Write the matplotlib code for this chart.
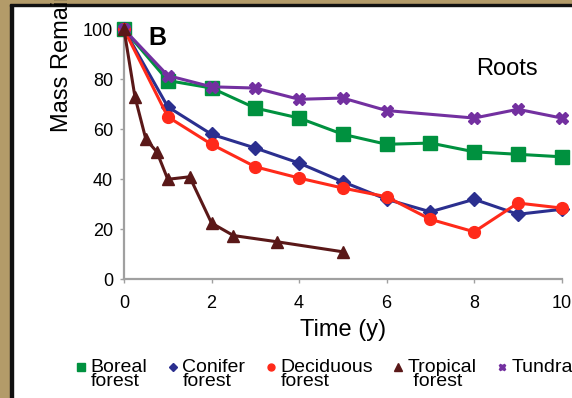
import numpy as np
import matplotlib
matplotlib.use('Agg')
import matplotlib.pyplot as plt
from matplotlib.legend_handler import HandlerLine2D
from matplotlib.patches import Rectangle

plt.rcParams['font.family'] = ['Liberation Sans', 'DejaVu Sans']

# values (mass remaining, %)
years = [0, 1, 2, 3, 4, 5, 6, 7, 8, 9, 10]
boreal = [100, 79.5, 76.5, 68.5, 64.5, 58, 54, 54.5, 51, 50, 49]
conifer = [100, 69, 58, 52.5, 46.5, 39, 32, 27, 32, 26, 28]
deciduous = [100, 65, 54, 45, 40.5, 36.5, 33, 24, 19, 30.5, 28.5]
tundra_years = [0, 1, 2, 3, 4, 5, 6, 8, 9, 10]
tundra = [100, 81.5, 77, 76.5, 72, 72.5, 67.5, 64.5, 68, 64.5]
tropical_years = [0, 0.25, 0.5, 0.75, 1, 1.5, 2, 2.5, 3.5, 5]
tropical = [100, 73, 56, 51, 40, 41, 22.5, 17.5, 15, 11]

x_ticks = [0, 2, 4, 6, 8, 10]
y_ticks = [0, 20, 40, 60, 80, 100]

W, H = 572, 398
fig = plt.figure(figsize=(W / 100, H / 100), dpi=100)

# tan frame on left/top edge
fig.patches.append(Rectangle((0, 0), 10 / W, 1, transform=fig.transFigure, color='#b39b69', zorder=0))
fig.patches.append(Rectangle((10 / W, 0), 3 / W, 1 - 4 / H, transform=fig.transFigure, color='#111111', zorder=0))
fig.patches.append(Rectangle((0, 1 - 4 / H), 1, 4 / H, transform=fig.transFigure, color='#b39b69', zorder=0))
fig.patches.append(Rectangle((10 / W, 1 - 6 / H), 1, 2 / H, transform=fig.transFigure, color='#111111', zorder=0))

ax = fig.add_axes([124 / W, (H - 279.3) / H, (561.7 - 124) / W, 255 / H])

series = [
    (years, boreal, 'Boreal\nforest', '#00913f', 's', 9.5, 6.0),
    (years, conifer, 'Conifer\nforest', '#2b2f8f', 'D', 7, 4.5),
    (years, deciduous, 'Deciduous\nforest', '#ff2a1a', 'o', 8.5, 5.0),
    (tropical_years, tropical, 'Tropical\n forest', '#5a1818', '^', 8.5, 5.5),
    (tundra_years, tundra, 'Tundra\n ', '#7330a0', 'X', 9, 5.0),
]
zorders = [3, 3, 3, 5, 4]

lines = []
leg_sizes = []
for (xs, ys, lab, col, mk, ms, lms), z in zip(series, zorders):
    ln, = ax.plot(xs, ys, color=col, lw=2.2, marker=mk, ms=ms, mec=col, mfc=col,
                  label=lab, clip_on=False, zorder=z)
    lines.append(ln)
    leg_sizes.append(lms)

ax.set_xlim(0, 10)
ax.set_ylim(0, 102)
ax.set_xticks(x_ticks)
ax.set_yticks(y_ticks)
for s in ['top', 'right']:
    ax.spines[s].set_visible(False)
for s in ['left', 'bottom']:
    ax.spines[s].set_color('#a0a0a0')
    ax.spines[s].set_linewidth(1.6)
ax.tick_params(direction='out', length=3, width=1, color='#a0a0a0',
               labelsize=13, pad=5)
ax.tick_params(axis='x', pad=8)
ax.set_xlabel('Time (y)', fontsize=17, labelpad=5)

fig.text(68 / W, 1 - 132 / H, 'Mass Remaining (%)', rotation=90, rotation_mode='anchor',
         ha='left', va='baseline', fontsize=17)
fig.text(148 / W, 1 - 45 / H, 'B', fontsize=18, fontweight='bold', ha='left', va='baseline')
fig.text(476 / W, 1 - 75 / H, 'Roots', fontsize=17, ha='left', va='baseline')


class MarkerOnly(HandlerLine2D):
    def __init__(self, size, shift, **kw):
        super().__init__(**kw)
        self.size = size
        self.shift = shift

    def create_artists(self, legend, orig_handle, xdescent, ydescent, width,
                       height, fontsize, trans):
        arts = super().create_artists(legend, orig_handle, xdescent, ydescent,
                                      width, height, fontsize, trans)
        for a in arts:
            a.set_linestyle('none')
            a.set_markersize(self.size)
            a.set_ydata(np.asarray(a.get_ydata()) + self.shift)
        return arts


hmap = {}
for ln, lms in zip(lines, leg_sizes):
    hmap[ln] = MarkerOnly(lms, 5.5, numpoints=1)

fig.legend(handles=lines, handler_map=hmap, loc='upper left',
           bbox_to_anchor=(75 / W, 1 - 359 / H), ncol=5, frameon=False,
           handlelength=0.6, handletextpad=0.2, columnspacing=1.0,
           borderpad=0, borderaxespad=0, prop={'size': 14},
           labelspacing=0)
for t in fig.legends[0].get_texts():
    t.set_linespacing(0.8)

fig.savefig('out.png', dpi=100)
